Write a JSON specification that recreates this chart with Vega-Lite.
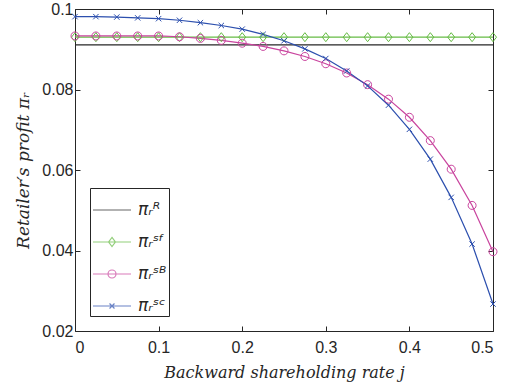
{
  "$schema": "https://vega.github.io/schema/vega-lite/v6.json",
  "width": 418,
  "height": 322,
  "autosize": "none",
  "padding": {"left": 75, "top": 9, "right": 15, "bottom": 54},
  "background": "white",
  "config": {
    "view": {"stroke": null},
    "axis": {
      "grid": false,
      "domainColor": "#262626",
      "tickColor": "#262626",
      "labelColor": "#262626",
      "labelFont": "Liberation Sans",
      "labelFontSize": 16,
      "titleColor": "#262626",
      "titleFont": "DejaVu Serif",
      "titleFontStyle": "italic",
      "titleFontWeight": "normal",
      "titleFontSize": 16,
      "domainWidth": 1,
      "tickWidth": 1
    }
  },
  "data": {
    "values": [
      {"j": 0, "series": "R", "v": 0.0911}, {"j": 0.025, "series": "R", "v": 0.0911}, {"j": 0.05, "series": "R", "v": 0.0911}, {"j": 0.075, "series": "R", "v": 0.0911}, {"j": 0.1, "series": "R", "v": 0.0911}, {"j": 0.125, "series": "R", "v": 0.0911}, {"j": 0.15, "series": "R", "v": 0.0911}, {"j": 0.175, "series": "R", "v": 0.0911}, {"j": 0.2, "series": "R", "v": 0.0911}, {"j": 0.225, "series": "R", "v": 0.0911}, {"j": 0.25, "series": "R", "v": 0.0911}, {"j": 0.275, "series": "R", "v": 0.0911}, {"j": 0.3, "series": "R", "v": 0.0911}, {"j": 0.325, "series": "R", "v": 0.0911}, {"j": 0.35, "series": "R", "v": 0.0911}, {"j": 0.375, "series": "R", "v": 0.0911}, {"j": 0.4, "series": "R", "v": 0.0911}, {"j": 0.425, "series": "R", "v": 0.0911}, {"j": 0.45, "series": "R", "v": 0.0911}, {"j": 0.475, "series": "R", "v": 0.0911}, {"j": 0.5, "series": "R", "v": 0.0911},
      {"j": 0, "series": "SF", "v": 0.0930}, {"j": 0.025, "series": "SF", "v": 0.0930}, {"j": 0.05, "series": "SF", "v": 0.0930}, {"j": 0.075, "series": "SF", "v": 0.0930}, {"j": 0.1, "series": "SF", "v": 0.0930}, {"j": 0.125, "series": "SF", "v": 0.0930}, {"j": 0.15, "series": "SF", "v": 0.0930}, {"j": 0.175, "series": "SF", "v": 0.0930}, {"j": 0.2, "series": "SF", "v": 0.0930}, {"j": 0.225, "series": "SF", "v": 0.0930}, {"j": 0.25, "series": "SF", "v": 0.0930}, {"j": 0.275, "series": "SF", "v": 0.0930}, {"j": 0.3, "series": "SF", "v": 0.0930}, {"j": 0.325, "series": "SF", "v": 0.0930}, {"j": 0.35, "series": "SF", "v": 0.0930}, {"j": 0.375, "series": "SF", "v": 0.0930}, {"j": 0.4, "series": "SF", "v": 0.0930}, {"j": 0.425, "series": "SF", "v": 0.0930}, {"j": 0.45, "series": "SF", "v": 0.0930}, {"j": 0.475, "series": "SF", "v": 0.0930}, {"j": 0.5, "series": "SF", "v": 0.0930},
      {"j": 0, "series": "SB", "v": 0.0933}, {"j": 0.025, "series": "SB", "v": 0.0933}, {"j": 0.05, "series": "SB", "v": 0.0933}, {"j": 0.075, "series": "SB", "v": 0.0933}, {"j": 0.1, "series": "SB", "v": 0.0933}, {"j": 0.125, "series": "SB", "v": 0.0931}, {"j": 0.15, "series": "SB", "v": 0.0927}, {"j": 0.175, "series": "SB", "v": 0.0922}, {"j": 0.2, "series": "SB", "v": 0.0915}, {"j": 0.225, "series": "SB", "v": 0.0907}, {"j": 0.25, "series": "SB", "v": 0.0896}, {"j": 0.275, "series": "SB", "v": 0.0882}, {"j": 0.3, "series": "SB", "v": 0.0864}, {"j": 0.325, "series": "SB", "v": 0.0841}, {"j": 0.35, "series": "SB", "v": 0.0812}, {"j": 0.375, "series": "SB", "v": 0.0776}, {"j": 0.4, "series": "SB", "v": 0.0731}, {"j": 0.425, "series": "SB", "v": 0.0673}, {"j": 0.45, "series": "SB", "v": 0.0602}, {"j": 0.475, "series": "SB", "v": 0.0512}, {"j": 0.5, "series": "SB", "v": 0.0397},
      {"j": 0, "series": "SC", "v": 0.0981}, {"j": 0.025, "series": "SC", "v": 0.0981}, {"j": 0.05, "series": "SC", "v": 0.0980}, {"j": 0.075, "series": "SC", "v": 0.0978}, {"j": 0.1, "series": "SC", "v": 0.0976}, {"j": 0.125, "series": "SC", "v": 0.0972}, {"j": 0.15, "series": "SC", "v": 0.0966}, {"j": 0.175, "series": "SC", "v": 0.0959}, {"j": 0.2, "series": "SC", "v": 0.0950}, {"j": 0.225, "series": "SC", "v": 0.0937}, {"j": 0.25, "series": "SC", "v": 0.0921}, {"j": 0.275, "series": "SC", "v": 0.0901}, {"j": 0.3, "series": "SC", "v": 0.0877}, {"j": 0.325, "series": "SC", "v": 0.0846}, {"j": 0.35, "series": "SC", "v": 0.0809}, {"j": 0.375, "series": "SC", "v": 0.0761}, {"j": 0.4, "series": "SC", "v": 0.0701}, {"j": 0.425, "series": "SC", "v": 0.0627}, {"j": 0.45, "series": "SC", "v": 0.0532}, {"j": 0.475, "series": "SC", "v": 0.0416}, {"j": 0.5, "series": "SC", "v": 0.0267}
    ]
  },
  "layer": [
    {
      "mark": {"type": "line", "strokeWidth": 1.2},
      "encoding": {
        "x": {"field": "j", "type": "quantitative", "scale": {"domain": [0, 0.5], "nice": false, "zero": false},
          "axis": {"orient": "bottom", "values": [0, 0.1, 0.2, 0.3, 0.4, 0.5], "format": "~g", "tickSize": -5, "labelPadding": 13, "title": "Backward shareholding rate j", "titlePadding": 9}},
        "y": {"field": "v", "type": "quantitative", "scale": {"domain": [0.02, 0.1], "nice": false, "zero": false},
          "axis": {"orient": "left", "values": [0.02, 0.04, 0.06, 0.08, 0.1], "format": "~g", "tickSize": -5, "labelPadding": 7, "title": "Retailer′s profit πᵣ", "titlePadding": 9, "titleFontSize": 17}},
        "color": {"field": "series", "type": "nominal", "scale": {"domain": ["R", "SF", "SB", "SC"], "range": ["#262626", "#66bb44", "#c9449e", "#2c4fae"]}, "legend": null},
        "detail": {"field": "series"}
      }
    },
    {
      "transform": [{"filter": "datum.series != 'R'"}],
      "mark": {"type": "point", "filled": false, "size": 100, "strokeWidth": 1, "opacity": 1},
      "encoding": {
        "x": {"field": "j", "type": "quantitative", "axis": {"orient": "top", "values": [0, 0.1, 0.2, 0.3, 0.4, 0.5], "labels": false, "title": null, "tickSize": -5}},
        "y": {"field": "v", "type": "quantitative", "axis": {"orient": "right", "values": [0.02, 0.04, 0.06, 0.08, 0.1], "labels": false, "title": null, "tickSize": -5}},
        "color": {"field": "series", "type": "nominal", "scale": {"domain": ["R", "SF", "SB", "SC"], "range": ["#262626", "#66bb44", "#c9449e", "#2c4fae"]}, "legend": null},
        "shape": {"field": "series", "type": "nominal", "scale": {"domain": ["SF", "SB", "SC"], "range": ["M0,-0.9L0.7,0L0,0.9L-0.7,0Z", "M-0.8,0A0.8,0.8 0 1,1 0.8,0A0.8,0.8 0 1,1 -0.8,0Z", "M-0.54,-0.54L0.54,0.54M-0.54,0.54L0.54,-0.54"]}, "legend": null}
      }
    },
    {
      "transform": [{"filter": "false"}],
      "mark": {"type": "point", "filled": false, "size": 1444, "strokeWidth": 1.2},
      "encoding": {
        "x": {"field": "j", "type": "quantitative", "axis": null},
        "y": {"field": "v", "type": "quantitative", "axis": null},
        "color": {"field": "series", "type": "nominal", "scale": {"domain": ["R", "SF", "SB", "SC"], "range": ["#262626", "#66bb44", "#c9449e", "#2c4fae"]},
          "legend": {"orient": "bottom-left", "offset": 15, "title": null, "symbolSize": 1444, "symbolStrokeWidth": 1.2, "symbolFillColor": "transparent",
            "labelExpr": "datum.label == 'R' ? 'πᵣᴿ' : datum.label == 'SF' ? 'πᵣˢᶠ' : datum.label == 'SB' ? 'πᵣˢᴮ' : 'πᵣˢᶜ'",
            "labelFont": "DejaVu Sans", "labelFontStyle": "italic", "labelFontSize": 17, "labelColor": "#262626", "labelOffset": 6,
            "strokeColor": "#262626", "fillColor": "white", "padding": 2, "rowPadding": 4}},
        "shape": {"field": "series", "type": "nominal", "scale": {"domain": ["R", "SF", "SB", "SC"], "range": ["M-1,0L1,0", "M-1,0L1,0M0,-0.24L0.18,0L0,0.24L-0.18,0Z", "M-1,0L1,0M-0.21,0A0.21,0.21 0 1,1 0.21,0A0.21,0.21 0 1,1 -0.21,0Z", "M-1,0L1,0M-0.13,-0.13L0.13,0.13M-0.13,0.13L0.13,-0.13"]},
          "legend": {"orient": "bottom-left", "offset": 15, "title": null, "symbolSize": 1444, "symbolStrokeWidth": 1.2, "symbolFillColor": "transparent",
            "labelExpr": "datum.label == 'R' ? 'πᵣᴿ' : datum.label == 'SF' ? 'πᵣˢᶠ' : datum.label == 'SB' ? 'πᵣˢᴮ' : 'πᵣˢᶜ'",
            "labelFont": "DejaVu Sans", "labelFontStyle": "italic", "labelFontSize": 17, "labelColor": "#262626", "labelOffset": 6,
            "strokeColor": "#262626", "fillColor": "white", "padding": 2, "rowPadding": 4}}
      }
    }
  ],
  "resolve": {
    "scale": {"color": "independent", "shape": "independent"},
    "axis": {"x": "independent", "y": "independent"}
  }
}
